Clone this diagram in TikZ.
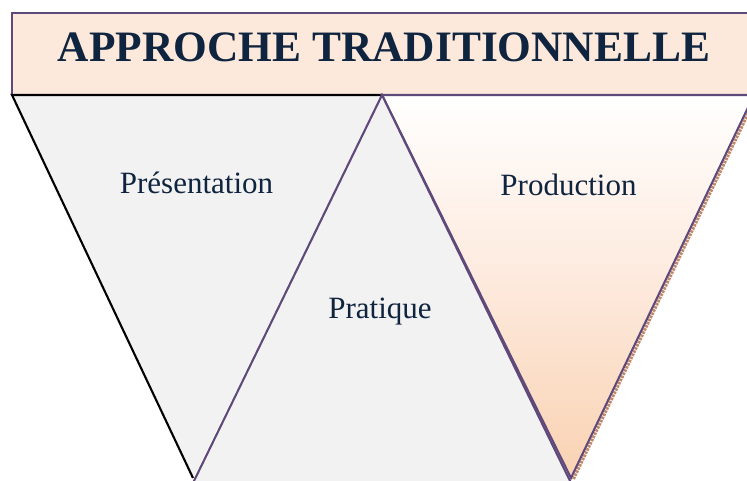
\documentclass[tikz,border=0pt]{standalone}
\usepackage{fontspec}
\setmainfont{Liberation Serif}
\definecolor{titlefill}{HTML}{FDE9DC}
\definecolor{edgepurple}{HTML}{5F497A}
\definecolor{greyfill}{HTML}{F2F2F2}
\definecolor{peach}{HTML}{F9D2B2}
\definecolor{navy}{HTML}{0F243E}
\definecolor{shadowbrown}{HTML}{C08868}
\tikzset{
  titlebox/.style={fill=titlefill, draw=edgepurple, line width=2.2pt},
  greytri/.style={fill=greyfill, line width=2.1pt, line join=miter},
  labeltext/.style={text=navy, font=\fontsize{31}{36}\selectfont, anchor=base, inner sep=0pt},
  titletext/.style={text=navy, font=\fontsize{43.4}{50}\selectfont\bfseries, anchor=base, inner sep=0pt}
}
\begin{document}
\begin{tikzpicture}[x=1pt,y=-1pt]
\useasboundingbox (0,0) rectangle (747,481);
\clip (0,0) rectangle (747,481);
% title box
\draw[titlebox] (12,13) rectangle (770,95);
% left triangle (inverted)
\fill[greyfill] (12,95) -- (382,95) -- (193,478) -- cycle;
\draw[line width=2.1pt, black, line join=miter] (193,478) -- (12,95) -- (382,95);
% right triangle (inverted, gradient)
\shade[top color=white, bottom color=peach, middle color=titlefill] (382,95) -- (754,95) -- (571,478) -- cycle;
\draw[shadowbrown, line width=3pt, dash pattern=on 2.5pt off 1pt] (573.5,479) -- (756.5,96);
\draw[edgepurple, line width=2.1pt] (382,95) -- (754,95) -- (571,478) -- cycle;
% middle triangle (upright)
\draw[greytri, draw=edgepurple] (382,95) -- (572,485) -- (192,485) -- cycle;
% texts
\node[titletext] (title) at (384,62) {APPROCHE TRADITIONNELLE};
\node[labeltext] (pres) at (196.5,194) {Présentation};
\node[labeltext] (prat) at (380,318) {Pratique};
\node[labeltext] (prod) at (568.5,196) {Production};
\end{tikzpicture}
\end{document}
